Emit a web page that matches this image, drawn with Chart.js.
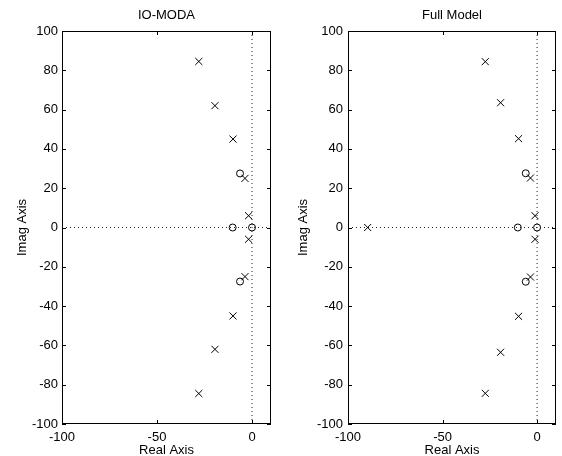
<!DOCTYPE html>
<html><head><meta charset="utf-8">
<script src="https://cdn.jsdelivr.net/npm/chart.js@4/dist/chart.umd.min.js"></script>
<style>
html,body{margin:0;padding:0;background:#fff;}
#wrap{position:relative;width:562px;height:456px;}
.c{position:absolute;top:0;}
</style></head>
<body><div id="wrap">
<canvas id="c1" class="c" width="281" height="456" style="left:0"></canvas>
<canvas id="c2" class="c" width="281" height="456" style="left:281px"></canvas>
</div>
<script>
// Titles / labels
const titles = ['IO-MODA', 'Full Model'];
const xTitle = 'Real Axis';
const yTitle = 'Imag Axis';
const xTicks = [-100, -50, 0];
const yTicks = [-100, -80, -60, -40, -20, 0, 20, 40, 60, 80, 100];

// IO-MODA poles (x) and zeros (o)
const ioPoleRe = [-28, -28, -19.5, -19.5, -10, -10, -3.7, -3.7, -1.8, -1.8];
const ioPoleIm = [84.5, -84.5, 62, -62, 45, -45, 25, -25, 6, -6];
const ioZeroRe = [-6.3, -6.3, -10.2, 0];
const ioZeroIm = [27.5, -27.5, 0, 0];

// Full model poles (x) and zeros (o)
const fmPoleRe = [-27.4, -27.4, -19.3, -19.3, -9.8, -9.8, -3.5, -3.5, -1.1, -1.1, -89.6];
const fmPoleIm = [84.4, -84.4, 63.5, -63.5, 45.2, -45.2, 25.2, -25.2, 6, -6, 0];
const fmZeroRe = [-6, -6, -10.2, 0];
const fmZeroIm = [27.6, -27.6, 0, 0];

// axis reference lines
const xRange = [-100, 10];
const yRange = [-100, 100];

const FONT = "'Liberation Sans', Arial, Helvetica, sans-serif";
const pts = (re, im) => re.map((v, i) => ({x: v, y: im[i]}));

const boxPlugin = {
  id: 'box',
  afterDatasetsDraw(chart) {
    const {ctx, chartArea: a, scales: {x, y}} = chart;
    ctx.save();
    ctx.strokeStyle = '#000';
    ctx.lineWidth = 1;
    ctx.strokeRect(a.left + 0.5, a.top + 0.5, a.right - a.left - 1, a.bottom - a.top - 1);
    const L = 4;
    ctx.beginPath();
    xTicks.forEach(v => {
      const px = Math.round(x.getPixelForValue(v)) + 0.5;
      ctx.moveTo(px, a.bottom); ctx.lineTo(px, a.bottom - L);
      ctx.moveTo(px, a.top); ctx.lineTo(px, a.top + L);
    });
    yTicks.forEach(v => {
      const py = Math.round(y.getPixelForValue(v)) + 0.5;
      ctx.moveTo(a.left, py); ctx.lineTo(a.left + L, py);
      ctx.moveTo(a.right, py); ctx.lineTo(a.right - L, py);
    });
    ctx.stroke();
    ctx.restore();
  }
};

function make(id, title, poles, zeros, yw, padRight, yPad) {
  return new Chart(document.getElementById(id), {
    type: 'scatter',
    data: {
      datasets: [
        {type: 'line', data: [{x: xRange[0], y: 0}, {x: xRange[1], y: 0}], borderColor: '#222', borderWidth: 1, borderDash: [1, 3], pointRadius: 0, fill: false},
        {type: 'line', data: [{x: 0, y: yRange[0]}, {x: 0, y: yRange[1]}], borderColor: '#222', borderWidth: 1, borderDash: [1, 3], pointRadius: 0, fill: false},
        {data: poles, pointStyle: 'crossRot', pointRadius: 5, pointBorderWidth: 1, borderColor: '#000', backgroundColor: '#000'},
        {data: zeros, pointStyle: 'circle', pointRadius: 3.5, pointBorderWidth: 1, borderColor: '#000', backgroundColor: 'rgba(0,0,0,0)'}
      ]
    },
    options: {
      responsive: false,
      animation: false,
      devicePixelRatio: 1,
      layout: {padding: {left: 0, right: padRight, top: 0, bottom: 0}},
      plugins: {
        legend: {display: false},
        tooltip: {enabled: false},
        title: {display: true, text: title, color: '#000', fullSize: false,
          font: {family: FONT, size: 13, weight: 'normal', lineHeight: 1.2},
          padding: {top: 8, bottom: 7.4}}
      },
      scales: {
        x: {
          type: 'linear', min: xRange[0], max: xRange[1],
          afterBuildTicks: s => { s.ticks = xTicks.map(v => ({value: v})); },
          afterFit: s => { s.height = 32; },
          grid: {display: false, drawTicks: false},
          border: {display: false},
          ticks: {color: '#000', padding: 6, maxRotation: 0, font: {family: FONT, size: 13}},
          title: {display: true, text: xTitle, color: '#000', padding: 0,
            font: {family: FONT, size: 13, lineHeight: '12px'}}
        },
        y: {
          type: 'linear', min: yRange[0], max: yRange[1],
          afterBuildTicks: s => { s.ticks = yTicks.map(v => ({value: v})); },
          afterFit: s => { s.width = yw; },
          grid: {display: false, drawTicks: false},
          border: {display: false},
          ticks: {color: '#000', padding: yPad, font: {family: FONT, size: 13}},
          title: {display: true, text: yTitle, color: '#000', padding: 0,
            font: {family: FONT, size: 13, lineHeight: '44px'}}
        }
      }
    },
    plugins: [boxPlugin]
  });
}

make('c1', titles[0], pts(ioPoleRe, ioPoleIm), pts(ioZeroRe, ioZeroIm), 62, 10, 4);
make('c2', titles[1], pts(fmPoleRe, fmPoleIm), pts(fmZeroRe, fmZeroIm), 67, 5, 5);
</script>
</body></html>
